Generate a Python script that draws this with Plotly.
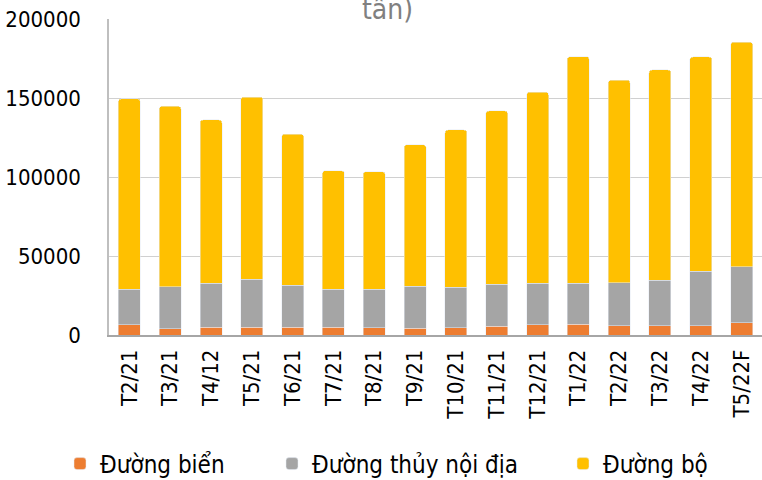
import plotly.graph_objects as go

categories = ["T2/21", "T3/21", "T4/12", "T5/21", "T6/21", "T7/21", "T8/21", "T9/21",
              "T10/21", "T11/21", "T12/21", "T1/22", "T2/22", "T3/22", "T4/22", "T5/22F"]
duong_bien = [6400, 4100, 4900, 5000, 5000, 5000, 4500, 4300,
              4700, 5600, 6600, 6900, 5800, 5700, 5800, 7600]
duong_thuy = [22700, 26400, 27700, 30400, 26400, 24100, 24600, 26400,
              25600, 26400, 26300, 26000, 27400, 28800, 34400, 35500]
duong_bo = [120400, 114200, 103500, 115200, 95700, 74900, 74300, 89700,
            99500, 109800, 120900, 143300, 128100, 133300, 135800, 142200]
y_ticks = [0, 50000, 100000, 150000, 200000]

FONT = "DejaVu Sans Condensed, DejaVu Sans, sans-serif"

fig = go.Figure()
fig.add_trace(go.Bar(x=categories, y=duong_bien, name="Đường biển",
                     marker=dict(color="#ED7D31"), legend="legend", showlegend=True))
fig.add_trace(go.Bar(x=categories, y=duong_thuy, name="Đường thủy nội địa",
                     marker=dict(color="#A5A5A5"), legend="legend2", showlegend=True))
fig.add_trace(go.Bar(x=categories, y=duong_bo, name="Đường bộ",
                     marker=dict(color="#FFC000"), legend="legend3", showlegend=True))

L, R, T, B = 109, 0, 19, 145
W, H = 762, 480
pw = W - L - R
ph = H - T - B

def px_x(p):
    return (p - L) / pw

def px_y(p):
    return 1 - (p - T) / ph

leg_common = dict(orientation="h", yanchor="middle", xanchor="left",
                  font=dict(family=FONT, size=24, color="#000000"),
                  bgcolor="rgba(0,0,0,0)", itemwidth=30)

fig.update_layout(
    width=W, height=H, showlegend=True,
    barmode="stack", bargap=0.46, barcornerradius=3,
    paper_bgcolor="white", plot_bgcolor="white",
    margin=dict(l=L, r=R, t=T, b=B, autoexpand=False),
    font=dict(family=FONT, size=22, color="#000000"),
    xaxis=dict(tickangle=-90, tickfont=dict(size=22, family=FONT), showline=True,
               linecolor="#A6A6A6", linewidth=1.5, showgrid=False, ticks="",
               ticklabelstandoff=4, automargin=False),
    yaxis=dict(range=[0, 200000], tickvals=y_ticks, ticktext=[str(v) for v in y_ticks],
               tickfont=dict(size=22, family=FONT), showline=True, linecolor="#BFBFBF",
               linewidth=1.5, showgrid=True, gridcolor="#D0D0D0", gridwidth=1.2,
               ticks="", ticklabelstandoff=22, zeroline=False, automargin=False),
    legend=dict(x=px_x(60), y=px_y(464), **leg_common),
    legend2=dict(x=px_x(272), y=px_y(464), **leg_common),
    legend3=dict(x=px_x(563), y=px_y(464), **leg_common),
    annotations=[dict(text="tấn)", xref="paper", yref="paper", x=px_x(387), y=px_y(28),
                      xanchor="center", yanchor="bottom", showarrow=False,
                      font=dict(family=FONT, size=28, color="#808080"))],
)

fig.write_html("out.html", config={"displayModeBar": False},
               post_script="document.body.style.margin='0';document.body.style.overflow='hidden';")
